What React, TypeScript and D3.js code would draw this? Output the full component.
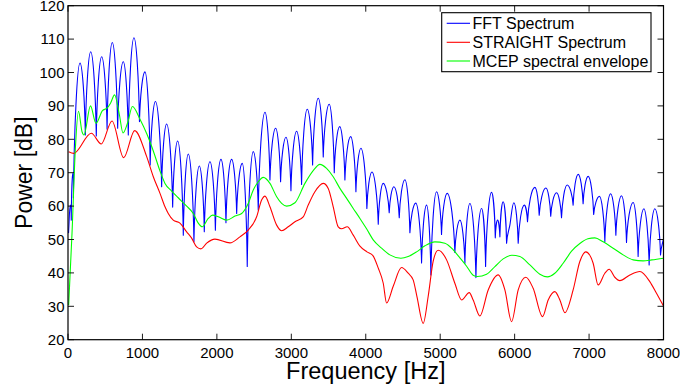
import React from "react";
import * as d3 from "d3";

const xTicks = [0, 1000, 2000, 3000, 4000, 5000, 6000, 7000, 8000];
const yTicks = [20, 30, 40, 50, 60, 70, 80, 90, 100, 110, 120];

const legendLabels = ["FFT Spectrum", "STRAIGHT Spectrum", "MCEP spectral envelope"];
const seriesColors = ["#0000ff", "#ff0000", "#00ff00"];

const fftFreq = [7, 31, 44, 63, 72, 161, 233, 305, 380, 452, 525, 595, 667, 743, 810, 886, 960, 1034, 1104, 1175, 1258, 1325, 1406, 1473, 1549, 1616, 1692, 1764, 1831, 1907, 1980, 2055, 2122, 2198, 2266, 2341, 2408, 2489, 2556, 2646, 2713, 2789, 2856, 2928, 2995, 3071, 3138, 3214, 3286, 3362, 3429, 3509, 3577, 3650, 3720, 3797, 3868, 3935, 4015, 4083, 4168, 4234, 4315, 4378, 4450, 4526, 4593, 4672, 4750, 4817, 4875, 4951, 5018, 5094, 5197, 5265, 5332, 5399, 5480, 5556, 5610, 5690, 5740, 5771, 5802, 5846, 5892, 5936, 5990, 6048, 6130, 6173, 6272, 6330, 6420, 6485, 6563, 6630, 6706, 6786, 6854, 6920, 6988, 7062, 7140, 7212, 7289, 7360, 7436, 7503, 7592, 7659, 7736, 7807, 7884, 7960, 8000];
const fftDb = [51.9, 60.3, 55.8, 69.8, 62.5, 102.8, 81.3, 106.2, 81.0, 104.7, 83.0, 109.0, 83.3, 103.2, 81.3, 110.4, 85.3, 100.2, 72.3, 91.3, 65.8, 84.6, 59.7, 79.5, 51.3, 75.6, 49.3, 72.0, 52.3, 73.3, 52.8, 74.0, 55.0, 74.0, 57.8, 72.8, 41.9, 76.3, 58.8, 88.1, 67.8, 83.3, 67.3, 80.6, 64.6, 82.4, 66.5, 89.0, 72.3, 92.3, 74.7, 90.5, 70.0, 83.8, 67.8, 80.8, 64.3, 77.3, 59.3, 70.2, 54.6, 66.8, 58.0, 65.8, 56.5, 67.9, 52.0, 60.9, 43.0, 60.3, 39.4, 64.3, 51.5, 63.8, 46.1, 55.8, 42.9, 60.8, 38.6, 59.3, 41.9, 64.1, 50.5, 55.8, 50.8, 61.3, 48.9, 54.3, 61.0, 48.9, 60.3, 55.3, 65.6, 57.3, 65.4, 57.0, 64.0, 56.5, 66.3, 60.3, 69.5, 60.7, 68.9, 57.5, 62.9, 49.3, 63.7, 51.3, 63.1, 49.1, 61.1, 44.9, 59.2, 42.4, 59.2, 45.4, 50.2];

const straightFreq = [9, 77, 313, 447, 591, 748, 896, 1057, 1146, 1236, 1303, 1347, 1414, 1504, 1594, 1661, 1728, 1786, 1863, 1974, 2176, 2310, 2421, 2534, 2601, 2646, 2713, 2803, 2870, 2959, 3049, 3160, 3227, 3317, 3429, 3496, 3563, 3630, 3676, 3751, 3832, 3922, 4016, 4096, 4167, 4235, 4280, 4369, 4481, 4570, 4637, 4687, 4772, 4839, 4906, 4973, 5086, 5197, 5288, 5390, 5443, 5533, 5645, 5779, 5869, 5959, 6048, 6151, 6249, 6375, 6451, 6540, 6608, 6675, 6786, 6876, 6957, 7055, 7122, 7212, 7270, 7346, 7413, 7548, 7682, 7816, 7906, 8000];
const straightDb = [76.3, 75.8, 81.8, 78.6, 85.5, 74.5, 82.6, 74.8, 68.8, 63.8, 59.8, 57.8, 55.8, 54.9, 52.3, 50.4, 47.8, 47.2, 48.9, 50.1, 49.0, 50.8, 52.8, 56.8, 61.8, 63.0, 59.8, 54.3, 52.6, 53.8, 55.3, 56.8, 60.3, 64.3, 66.8, 65.3, 59.8, 53.8, 53.2, 53.8, 51.3, 48.0, 46.3, 45.2, 41.5, 36.9, 31.0, 36.0, 41.6, 39.9, 37.9, 33.0, 24.9, 33.0, 43.5, 46.8, 43.9, 36.9, 31.9, 34.1, 31.9, 27.1, 34.9, 39.4, 34.9, 25.4, 34.9, 38.7, 35.4, 26.9, 31.9, 34.4, 31.9, 28.1, 34.9, 43.4, 46.3, 42.9, 36.4, 39.9, 41.1, 38.7, 37.7, 39.4, 40.4, 37.4, 33.9, 30.1];

const mcepFreq = [9, 54, 98, 141, 188, 215, 302, 376, 463, 524, 571, 626, 689, 739, 799, 866, 967, 1061, 1146, 1236, 1303, 1393, 1481, 1594, 1683, 1750, 1804, 1884, 1943, 2019, 2131, 2243, 2333, 2421, 2489, 2556, 2623, 2713, 2803, 2870, 2937, 3049, 3183, 3294, 3384, 3474, 3563, 3653, 3743, 3832, 3922, 4011, 4100, 4213, 4324, 4472, 4570, 4683, 4795, 4929, 5063, 5175, 5265, 5355, 5443, 5500, 5623, 5735, 5846, 5963, 6070, 6205, 6339, 6440, 6540, 6652, 6765, 6876, 6984, 7078, 7189, 7323, 7458, 7592, 7726, 7843, 8000];
const mcepDb = [30.4, 51.9, 76.8, 88.4, 82.3, 81.3, 90.0, 84.8, 88.6, 89.3, 90.8, 93.3, 87.5, 81.9, 84.8, 89.8, 86.0, 81.5, 76.5, 70.5, 66.8, 64.5, 62.5, 60.0, 57.8, 54.9, 53.8, 56.3, 57.3, 56.8, 55.8, 57.0, 57.8, 60.8, 64.8, 67.3, 68.6, 66.8, 62.8, 60.8, 60.0, 61.0, 66.8, 70.6, 72.5, 71.3, 68.8, 65.3, 62.3, 59.3, 56.3, 53.2, 49.9, 47.4, 45.4, 44.4, 44.9, 46.3, 48.1, 49.3, 48.9, 46.9, 44.5, 42.0, 39.3, 38.9, 39.6, 41.9, 44.2, 45.3, 44.9, 42.4, 39.6, 38.8, 39.9, 42.9, 46.5, 48.8, 50.2, 50.5, 49.3, 47.4, 45.4, 43.9, 43.6, 43.9, 44.4];

const W = 680;
const H = 392;
const L = 68;
const R = 663.5;
const T = 5.7;
const B = 339.7;
const FONT = "'Liberation Sans', Arial, Helvetica, sans-serif";

const x = d3.scaleLinear().domain([0, 8000]).range([L, R]);
const y = d3.scaleLinear().domain([20, 120]).range([B, T]);

// Harmonic spectrum path: rounded peaks, sharp (cusp) troughs
function harmonicPath(freq: number[], db: number[]): string {
  const px = freq.map((f) => x(f));
  const py = db.map((v) => y(v));
  const n = px.length;
  const kind = db.map((v, i) => {
    if (i === 0 || i === n - 1) return "mid";
    if (v > db[i - 1] && v > db[i + 1]) return "max";
    if (v < db[i - 1] && v < db[i + 1]) return "min";
    return "mid";
  });
  const slope = (i: number) => {
    const a = Math.max(0, i - 1);
    const b = Math.min(n - 1, i + 1);
    return (py[b] - py[a]) / (px[b] - px[a]);
  };
  const p = d3.path();
  p.moveTo(px[0], py[0]);
  for (let i = 0; i < n - 1; i++) {
    const x0 = px[i], y0 = py[i], x1 = px[i + 1], y1 = py[i + 1];
    const dx = x1 - x0, dy = y1 - y0;
    let c1x: number, c1y: number, c2x: number, c2y: number;
    if (kind[i] === "max") { c1x = x0 + dx * 0.42; c1y = y0; }
    else if (kind[i] === "min") { c1x = x0 + dx * 0.12; c1y = y0 + dy * 0.5; }
    else { const m = slope(i); c1x = x0 + dx / 3; c1y = y0 + (m * dx) / 3; }
    if (kind[i + 1] === "max") { c2x = x1 - dx * 0.42; c2y = y1; }
    else if (kind[i + 1] === "min") { c2x = x1 - dx * 0.12; c2y = y1 - dy * 0.5; }
    else { const m = slope(i + 1); c2x = x1 - dx / 3; c2y = y1 - (m * dx) / 3; }
    p.bezierCurveTo(c1x, c1y, c2x, c2y, x1, y1);
  }
  return p.toString();
}

const envLine = d3
  .line<[number, number]>()
  .x((d) => x(d[0]))
  .y((d) => y(d[1]))
  .curve(d3.curveMonotoneX);

export default function App() {
  const fftPath = harmonicPath(fftFreq, fftDb);
  const straightPath = envLine(straightFreq.map((f, i) => [f, straightDb[i]] as [number, number])) || "";
  const mcepPath = envLine(mcepFreq.map((f, i) => [f, mcepDb[i]] as [number, number])) || "";
  const paths = [fftPath, straightPath, mcepPath];

  const legX = 441.7, legY = 12.7, legW = 209.3, legH = 59;
  const rowY = [23.3, 42.3, 61];

  return (
    <svg width={W} height={H} style={{ position: "absolute", left: 0, top: 0, background: "#fff" }} fontFamily={FONT}>
      <rect x={0} y={0} width={W} height={H} fill="#fff" />
      <defs>
        <clipPath id="plotclip">
          <rect x={L} y={T} width={R - L} height={B - T} />
        </clipPath>
      </defs>
      <rect x={L} y={T} width={R - L} height={B - T} fill="#fff" />
      <g clipPath="url(#plotclip)" fill="none" strokeLinejoin="round">
        {paths.map((d, i) => (
          <path key={i} d={d} stroke={seriesColors[i]} strokeWidth={1.1} />
        ))}
      </g>
      <g stroke="#000" strokeWidth={0.9}>
        {xTicks.map((t) => (
          <g key={"xt" + t}>
            <line x1={x(t)} x2={x(t)} y1={B} y2={B - 6} />
            <line x1={x(t)} x2={x(t)} y1={T} y2={T + 6} />
          </g>
        ))}
        {yTicks.map((t) => (
          <g key={"yt" + t}>
            <line x1={L} x2={L + 6} y1={y(t)} y2={y(t)} />
            <line x1={R} x2={R - 6} y1={y(t)} y2={y(t)} />
          </g>
        ))}
      </g>
      <rect x={L} y={T} width={R - L} height={B - T} fill="none" stroke="#000" strokeWidth={1.2} />
      <g fontSize={15} fill="#000">
        {xTicks.map((t) => (
          <text key={"xl" + t} x={x(t)} y={358} textAnchor="middle">{t}</text>
        ))}
        {yTicks.map((t) => (
          <text key={"yl" + t} x={64.5} y={y(t) + 5.3} textAnchor="end">{t}</text>
        ))}
      </g>
      <text x={(L + R) / 2} y={379} textAnchor="middle" fontSize={23.5} fill="#000">Frequency [Hz]</text>
      <text transform={`translate(32,${(T + B) / 2}) rotate(-90)`} textAnchor="middle" fontSize={23} fill="#000">Power [dB]</text>
      <rect x={legX} y={legY} width={legW} height={legH} fill="#fff" stroke="#000" strokeWidth={1.1} />
      {legendLabels.map((lab, i) => (
        <g key={lab}>
          <line x1={446.7} x2={470} y1={rowY[i]} y2={rowY[i]} stroke={seriesColors[i]} strokeWidth={1.1} />
          <text x={472.5} y={rowY[i] + 5.7} fontSize={16} fill="#000">{lab}</text>
        </g>
      ))}
    </svg>
  );
}
